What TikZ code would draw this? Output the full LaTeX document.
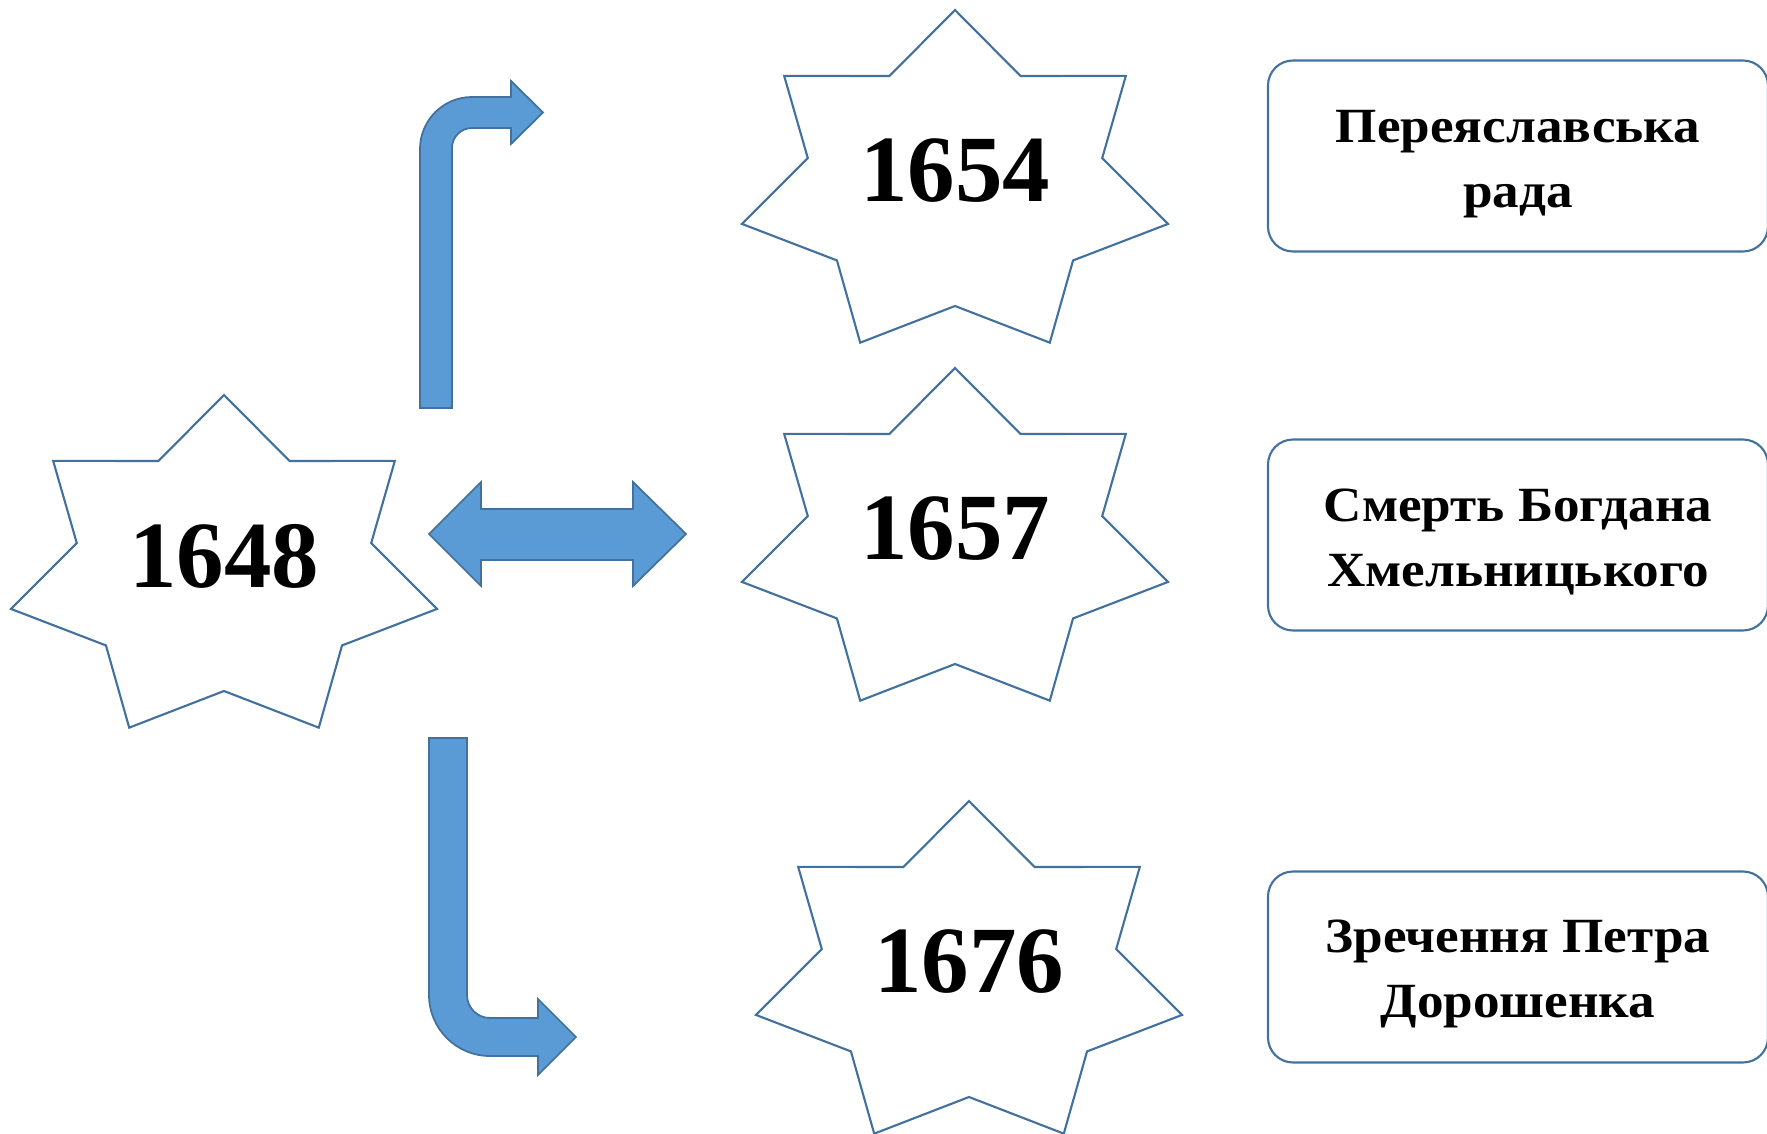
\documentclass[tikz,border=0pt]{standalone}
\usepackage{fontspec}
\setmainfont{Liberation Serif}
\newfontfamily\eventfont{Liberation Serif}[FakeStretch=1.08]
\definecolor{arrowfill}{RGB}{91,155,213}
\definecolor{edgeblue}{RGB}{65,113,156}

\begin{document}
\begin{tikzpicture}[x=0.1mm, y=-0.1mm,
	starline/.style={draw=edgeblue, line width=0.6pt, fill=white},
	year/.style={font=\fontsize{27}{30}\selectfont\bfseries, inner sep=0pt},
	event/.style={draw=edgeblue, line width=0.6pt, rounded corners=2.5mm, minimum width=50mm, minimum height=19.1mm},
	eventtext/.style={align=center, inner sep=0pt, font=\eventfont\fontsize{14}{18.5}\selectfont\bfseries},
	bigarrow/.style={fill=arrowfill, draw=edgeblue, line width=0.5pt}]
		\useasboundingbox (0,0) rectangle (1767,1134);
		% seven-point stars with the years
		\foreach \px/\py/\yr in {224/570/1648, 955/185/1654, 955/543/1657, 969/976/1676}{
			\draw[starline, shift={(\px,\py)}] (270:218.5 and 175)
				\foreach \k in {0,...,6}{ -- ({270+\k*360/7}:218.5 and 175) -- ({270+\k*360/7+180/7}:151 and 121)} -- cycle;
			\node (y\yr) [year] at (\px,\py-14) {\yr};
		}
		% events
		\node (e1654) [event] at (1518,156) {};
		\node (e1657) [event] at (1518,535) {};
		\node (e1676) [event] at (1518,967) {};
		\node (t1654) [eventtext] at ([yshift=-0.8mm]e1654.center) {Переяславська\\рада};
		\node (t1657) [eventtext] at ([yshift=-0.7mm]e1657.center) {Смерть Богдана\\Хмельницького};
		\node (t1676) [eventtext] at ([yshift=-0.7mm]e1676.center) {Зречення Петра\\Дорошенка};
		% block arrows
		\draw[bigarrow] (420,408) -- (420,149) arc[start angle=180, end angle=270, radius=52] -- (511,97) -- (511,81)
			-- (543,112.5) -- (511,144) -- (511,128) -- (472,128) arc[start angle=270, end angle=180, radius=20] -- (452,408) -- cycle;
		\draw[bigarrow] (429,534) -- (481,482) -- (481,509) -- (633,509) -- (633,482) -- (686,534)
			-- (633,586) -- (633,560) -- (481,560) -- (481,586) -- cycle;
		\draw[bigarrow] (429,738) -- (429,995) arc[start angle=180, end angle=90, radius=61] -- (538,1056) -- (538,1075)
			-- (576,1037) -- (538,999) -- (538,1018) -- (490,1018) arc[start angle=90, end angle=180, radius=23] -- (467,738) -- cycle;
\end{tikzpicture}
\end{document}
